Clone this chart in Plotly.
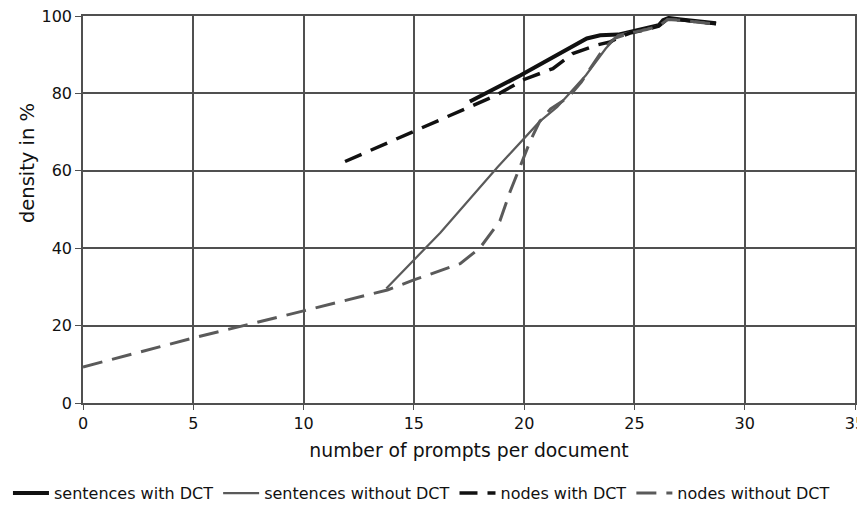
import plotly.graph_objects as go

# sentences with DCT
swd_x = [17.54, 19.82, 22.84, 23.45, 24.26, 24.8, 25.56, 26.1, 26.3, 26.55, 27.1, 28.0, 28.7]
swd_y = [77.9, 84.6, 94.2, 95.0, 95.2, 95.9, 96.7, 97.6, 98.9, 99.5, 99.1, 98.5, 98.1]

# sentences without DCT
swod_x = [13.75, 16.2, 18.8, 20.7, 21.5, 22.8, 23.7, 24.25, 24.8, 25.56, 26.1, 26.5, 27.1, 28.0, 28.7]
swod_y = [29.6, 44.0, 61.0, 72.7, 76.5, 84.7, 91.6, 95.0, 95.8, 96.6, 97.5, 99.2, 99.0, 98.4, 98.0]

# nodes with DCT
nwd_x = [11.88, 18.76, 20.0, 21.3, 22.2, 23.3, 23.9, 24.35, 24.8, 25.56, 26.1, 26.5, 27.1, 28.0, 28.7]
nwd_y = [62.4, 79.6, 83.6, 86.4, 90.3, 92.5, 93.3, 94.6, 95.6, 96.5, 97.4, 99.2, 99.0, 98.4, 98.0]

# nodes without DCT
nwod_x = [0.0, 5.0, 10.0, 13.8, 15.0, 16.2, 17.1, 18.0, 18.9, 19.37, 19.9, 20.27, 20.7, 21.2, 22.0, 22.6, 23.0, 23.6, 24.1, 24.8, 25.56, 26.1, 26.5, 27.1, 28.0, 28.7]
nwod_y = [9.3, 16.8, 23.8, 29.2, 31.8, 34.1, 36.0, 40.1, 47.0, 54.7, 62.4, 67.6, 72.7, 76.0, 79.0, 83.0, 86.5, 91.5, 94.2, 95.6, 96.5, 97.4, 99.1, 98.9, 98.3, 97.9]

x_ticks = [0, 5, 10, 15, 20, 25, 30, 35]
y_ticks = [0, 20, 40, 60, 80, 100]

FONT = "Verdana, DejaVu Sans, sans-serif"
GRID = "#505050"
GRAY = "#5a5a5a"

fig = go.Figure()
fig.add_trace(go.Scatter(x=swd_x, y=swd_y, mode="lines", name="sentences with DCT",
                         line=dict(color="#111111", width=4)))
fig.add_trace(go.Scatter(x=swod_x, y=swod_y, mode="lines", name="sentences without DCT",
                         line=dict(color=GRAY, width=2.2)))
fig.add_trace(go.Scatter(x=nwd_x, y=nwd_y, mode="lines", name="nodes with DCT",
                         line=dict(color="#111111", width=3.5, dash="18px,10px")))
fig.add_trace(go.Scatter(x=nwod_x, y=nwod_y, mode="lines", name="nodes without DCT",
                         line=dict(color=GRAY, width=3, dash="20px,10px")))

fig.update_layout(
    width=857, height=498,
    margin=dict(l=75, r=10, t=8, b=103, autoexpand=False),
    paper_bgcolor="white", plot_bgcolor="white",
    font=dict(family=FONT, size=16, color="#111111"),
    showlegend=True,
    legend=dict(orientation="h", xref="paper", yref="paper",
                x=-0.0972, xanchor="left", y=-0.233, yanchor="middle",
                font=dict(size=16), itemwidth=36, tracegroupgap=0,
                bgcolor="rgba(0,0,0,0)"),
    xaxis=dict(range=[0, 35], tickvals=x_ticks, showgrid=True, gridcolor=GRID, gridwidth=1.5,
               showline=True, mirror=True, linecolor=GRID, linewidth=1.5, ticks="outside", ticklen=5,
               tickcolor=GRID, zeroline=False, fixedrange=True, automargin=False,
               ticklabeloverflow="allow",
               title=dict(text="number of prompts per document", font=dict(size=18.8), standoff=12),
               tickfont=dict(size=16)),
    yaxis=dict(range=[0, 100], tickvals=y_ticks, showgrid=True, gridcolor=GRID, gridwidth=1.5,
               showline=True, mirror=True, linecolor=GRID, linewidth=1.5, ticks="outside", ticklen=6,
               tickcolor=GRID, zeroline=False, fixedrange=True, automargin=False,
               ticklabeloverflow="allow",
               tickfont=dict(size=16)),
    annotations=[dict(text="density in %", textangle=-90, xref="paper", yref="paper",
                      x=-0.0725, y=0.62, xanchor="center", yanchor="middle",
                      showarrow=False, font=dict(size=19.5))],
)

fig.write_html("out.html")
